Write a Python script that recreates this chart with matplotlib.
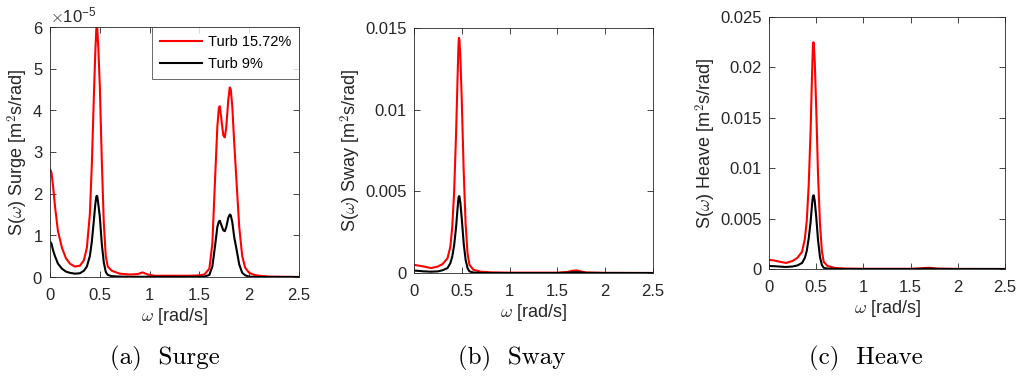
import matplotlib
matplotlib.use("Agg")
import matplotlib.pyplot as plt
import numpy as np
from matplotlib.ticker import ScalarFormatter

# surge spectrum (values in 1e-5 m^2 s/rad)
surge_w = [0, 0.015, 0.03, 0.05, 0.08, 0.12, 0.16, 0.2, 0.25, 0.3, 0.34, 0.37, 0.40, 0.42,
           0.44, 0.455, 0.465, 0.47, 0.475, 0.485, 0.50, 0.52, 0.54, 0.56, 0.58, 0.62, 0.7,
           0.8, 0.88, 0.93, 0.98, 1.05, 1.2, 1.4, 1.5, 1.55, 1.6, 1.63, 1.66, 1.68, 1.695,
           1.705, 1.72, 1.74, 1.755, 1.77, 1.79, 1.805, 1.815, 1.83, 1.85, 1.87, 1.9, 1.93,
           1.96, 2.0, 2.05, 2.1, 2.2, 2.5]
surge_hi = [2.6, 2.5, 2.2, 1.7, 1.1, 0.7, 0.45, 0.32, 0.25, 0.27, 0.4, 0.7, 1.5, 2.7,
            4.3, 5.4, 5.95, 6.0, 5.95, 5.5, 4.6, 2.8, 1.3, 0.5, 0.25, 0.15, 0.08,
            0.06, 0.07, 0.11, 0.06, 0.03, 0.03, 0.03, 0.04, 0.06, 0.2, 0.8, 2.5, 3.6, 4.05,
            4.1, 3.8, 3.4, 3.35, 3.6, 4.25, 4.55, 4.5, 4.1, 3.2, 2.4, 1.2, 0.5,
            0.22, 0.1, 0.05, 0.03, 0.01, 0.0]
surge_lo = [0.85, 0.8, 0.65, 0.5, 0.32, 0.2, 0.13, 0.1, 0.08, 0.09, 0.15, 0.25, 0.5, 0.85,
            1.35, 1.75, 1.93, 1.95, 1.93, 1.75, 1.45, 0.8, 0.35, 0.12, 0.05, 0.02, 0.01,
            0.005, 0.005, 0.005, 0.005, 0.005, 0.005, 0.005, 0.005, 0.01, 0.05, 0.25, 0.8, 1.2, 1.33,
            1.35, 1.25, 1.12, 1.1, 1.2, 1.42, 1.5, 1.48, 1.32, 0.95, 0.7, 0.3, 0.1,
            0.04, 0.01, 0.0, 0.0, 0.0, 0.0]

# sway / heave share the same frequency grid
w_grid = [0, 0.05, 0.1, 0.18, 0.25, 0.3, 0.35, 0.38, 0.40, 0.42, 0.44, 0.455, 0.465, 0.47,
          0.475, 0.485, 0.50, 0.52, 0.54, 0.56, 0.58, 0.62, 0.7, 0.8, 1.0, 1.5, 1.6, 1.65,
          1.7, 1.75, 1.8, 2.0, 2.5]
sway_hi = [0.0005, 0.00045, 0.0004, 0.0003, 0.0004, 0.00055, 0.0009, 0.0016, 0.0028, 0.005,
           0.0085, 0.0118, 0.0139, 0.0144, 0.0143, 0.0132, 0.0105, 0.0062, 0.003, 0.0012,
           0.0005, 0.0002, 0.00008, 0.00004, 0.00002, 0.00002, 0.00006, 0.00013, 0.00016,
           0.00009, 0.00003, 0.00001, 0]
sway_lo = [0.00015, 0.00013, 0.0001, 0.00008, 0.0001, 0.00017, 0.0003, 0.0006, 0.001, 0.0017,
           0.0028, 0.0039, 0.0046, 0.0047, 0.0047, 0.0043, 0.0033, 0.0018, 0.0008, 0.0003,
           0.0001, 0.00003, 0.00001, 0, 0, 0, 0.00002, 0.00004, 0.00005, 0.00003, 0.00001,
           0, 0]
heave_hi = [0.0009, 0.00085, 0.00075, 0.0006, 0.0008, 0.0011, 0.0017, 0.003, 0.0048, 0.0082,
            0.0135, 0.019, 0.0221, 0.0225, 0.0223, 0.0205, 0.016, 0.0092, 0.0045, 0.0018,
            0.0007, 0.0003, 0.0001, 0.00005, 0.00002, 0.00002, 0.00006, 0.0001, 0.00012,
            0.00007, 0.00003, 0.00001, 0]
heave_lo = [0.0003, 0.00028, 0.00025, 0.0002, 0.00025, 0.00035, 0.0006, 0.0011, 0.0018, 0.003,
            0.0046, 0.0063, 0.0072, 0.0073, 0.0073, 0.0067, 0.0052, 0.0028, 0.0012, 0.0004,
            0.00012, 0.00004, 0.00001, 0, 0, 0, 0.00002, 0.00003, 0.00004, 0.00002, 0.00001,
            0, 0]

labels = ["Turb 15.72%", "Turb 9%"]
x_ticks = [0, 0.5, 1, 1.5, 2, 2.5]
captions = ["(a)  Surge", "(b)  Sway", "(c)  Heave"]

plt.rcParams["font.family"] = ["Liberation Sans", "DejaVu Sans"]
plt.rcParams["mathtext.fontset"] = "cm"

TXT = "#262626"
fig = plt.figure(figsize=(10.2, 3.79), dpi=100)

boxes = [(50, 27, 299, 277), (414, 28, 653, 273), (769, 17, 1005, 269)]
W, H = 1020, 379


def make_ax(box):
    x0, y0, x1, y1 = box
    ax = fig.add_axes([x0 / W, 1 - y1 / H, (x1 - x0) / W, (y1 - y0) / H])
    ax.tick_params(direction="in", top=True, right=True, length=4, width=0.6,
                   labelsize=12, colors=TXT)
    ax.tick_params(axis="x", pad=8)
    ax.tick_params(axis="y", pad=5)
    for s in ax.spines.values():
        s.set_color(TXT)
        s.set_linewidth(0.6)
    ax.set_xlim(0, 2.5)
    ax.set_xticks(x_ticks)
    ax.set_xticklabels(["0", "0.5", "1", "1.5", "2", "2.5"])
    ax.set_xlabel(r"$\omega$ [rad/s]", fontsize=13, color=TXT, labelpad=2)
    return ax


# (a) surge
ax = make_ax(boxes[0])
ax.plot(surge_w, np.array(surge_hi) * 1e-5, color="red", lw=1.5, label=labels[0])
ax.plot(surge_w, np.array(surge_lo) * 1e-5, color="black", lw=1.5, label=labels[1])
ax.set_ylim(0, 6e-5)
ax.set_yticks(np.arange(0, 7) * 1e-5)
fmt = ScalarFormatter(useMathText=True)
fmt.set_powerlimits((0, 0))
ax.yaxis.set_major_formatter(fmt)
ax.yaxis.get_offset_text().set_fontsize(12)
ax.yaxis.get_offset_text().set_color(TXT)
ax.set_ylabel(r"S($\omega$) Surge [m$^2$s/rad]", fontsize=13, color=TXT, labelpad=2)
leg = ax.legend(loc="upper right", fontsize=10.5, frameon=True, fancybox=False,
                edgecolor=TXT, borderaxespad=0, handlelength=2.9, handletextpad=0.4,
                borderpad=0.55, labelspacing=0.57)
leg.get_frame().set_linewidth(0.6)

# (b) sway
ax = make_ax(boxes[1])
ax.plot(w_grid, sway_hi, color="red", lw=1.5)
ax.plot(w_grid, sway_lo, color="black", lw=1.5)
ax.set_ylim(0, 0.015)
ax.set_yticks([0, 0.005, 0.01, 0.015])
ax.set_yticklabels(["0", "0.005", "0.01", "0.015"])
ax.set_ylabel(r"S($\omega$) Sway [m$^2$s/rad]", fontsize=13, color=TXT, labelpad=2)

# (c) heave
ax = make_ax(boxes[2])
ax.plot(w_grid, heave_hi, color="red", lw=1.5)
ax.plot(w_grid, heave_lo, color="black", lw=1.5)
ax.set_ylim(0, 0.025)
ax.set_yticks([0, 0.005, 0.01, 0.015, 0.02, 0.025])
ax.set_yticklabels(["0", "0.005", "0.01", "0.015", "0.02", "0.025"])
ax.set_ylabel(r"S($\omega$) Heave [m$^2$s/rad]", fontsize=13, color=TXT, labelpad=2)

for cx, cap in zip([165, 512, 866], captions):
    fig.text(cx / W, 1 - 358 / H, cap, ha="center", va="center", fontsize=18,
             family=["cmr10", "DejaVu Serif"])

fig.savefig("out.png", dpi=100)
